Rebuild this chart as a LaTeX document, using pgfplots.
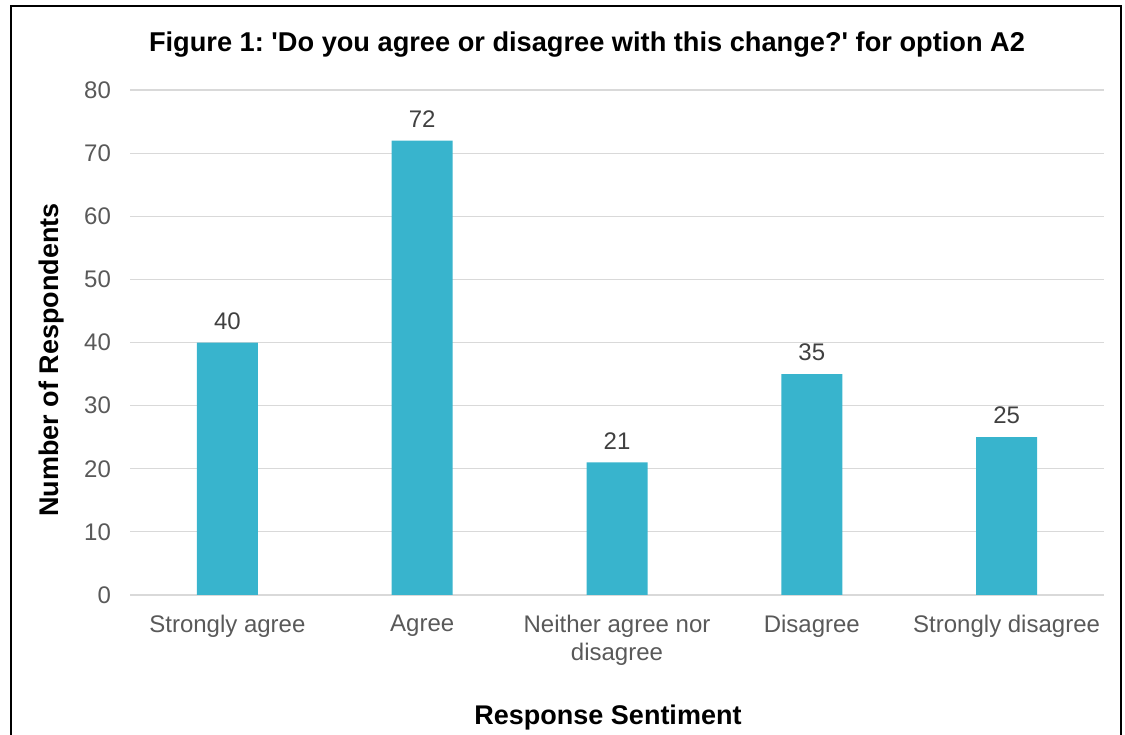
\documentclass[border=0pt]{standalone}
\usepackage{pgfplots}
\pgfplotsset{compat=1.18}
\usepackage{fontspec}
\setmainfont{Liberation Sans}
\frenchspacing
\definecolor{barc}{HTML}{38B4CD}
\definecolor{gridc}{HTML}{D9D9D9}
\definecolor{tickc}{HTML}{595959}
\definecolor{valc}{HTML}{404040}
\begin{document}
\begin{tikzpicture}[x=0.5pt,y=0.5pt]
\useasboundingbox (0,0) rectangle (1125,734);
\draw[line width=1.2pt] (11,-20) rectangle (1121,728);
\begin{axis}[
  at={(65pt,69.5pt)}, anchor=south west,
  scale only axis, width=487pt, height=252.5pt,
  xmin=-0.5, xmax=4.5, ymin=0, ymax=80,
  ytick={0,10,...,80},
  xtick={0,1,2,3,4},
  xticklabels={Strongly agree,Agree,{Neither agree nor\\disagree},Disagree,Strongly disagree},
  xticklabel style={align=center, font=\fontsize{12pt}{13.8pt}\selectfont, text=tickc, inner sep=0pt},
  yticklabel style={font=\fontsize{12pt}{14pt}\selectfont, text=tickc},
  /pgf/number format/assume math mode=true,
  major tick length=0pt,
  axis line style={draw=none},
  ymajorgrids, grid style={gridc, line width=0.6pt},
  xtick pos=bottom,
  xticklabel shift=10pt,
  yticklabel shift=6pt,
  ybar, bar width=30.5pt,
  nodes near coords,
  every node near coord/.append style={font=\fontsize{12pt}{14pt}\selectfont, text=valc, yshift=3pt},
  clip=false,
]
\addplot[fill=barc, draw=none] coordinates {(0,40) (1,72) (2,21) (3,35) (4,25)};
\end{axis}
\node[font=\bfseries\fontsize{13.6pt}{15pt}\selectfont] at (587,689) {Figure 1: \textquotesingle Do you agree or disagree with this change?\textquotesingle{} for option A2};
\node[font=\bfseries\fontsize{13.5pt}{15pt}\selectfont, rotate=90] at (52,374) {Number of Respondents};
\node[font=\bfseries\fontsize{13.5pt}{15pt}\selectfont] at (608,16) {Response Sentiment};
\end{tikzpicture}
\end{document}
